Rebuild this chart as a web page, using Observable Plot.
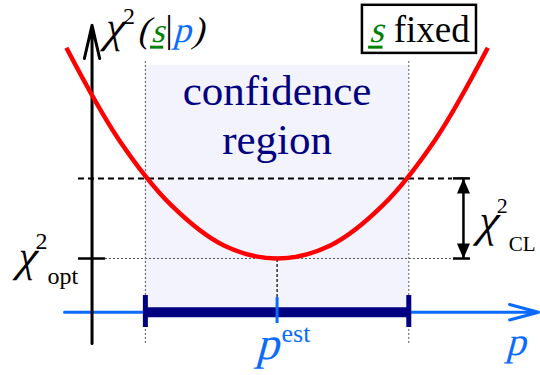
<!DOCTYPE html>
<html>
<head>
<meta charset="utf-8">
<script src="https://cdn.jsdelivr.net/npm/d3@7"></script>
<script src="https://cdn.jsdelivr.net/npm/@observablehq/plot@0.6"></script>
<style>
  html, body { margin: 0; padding: 0; background: #fff; }
  #chart svg { display: block; }
</style>
</head>
<body>
<div id="chart"></div>
<script>
// χ² profile as a function of the parameter p (s held fixed)
const pGrid = [-1.6, -1.2, -0.8, -0.4, 0, 0.4, 0.8, 1.2, 1.6];
const chi2Values = [3.63, 2.48, 1.66, 1.16, 1.0, 1.16, 1.66, 2.48, 3.63];

// best estimate, confidence interval and χ² levels
const pEst = 0;
const pInterval = [-1, 1];
const chi2Opt = 1;
const chi2CL = 1;

// label texts
const regionWords = ["confidence", "region"];
const chi2AxisName = "χ2(s|p)";
const fixedNote = "s fixed";
const optName = "χ2opt";
const clName = "χ2CL";
const estName = "pest";
const pAxisName = "p";

const serif = "'Liberation Serif', 'Times New Roman', serif";
const red = "#ff0000";
const navy = "#000080";
const blue = "#0a6cff";
const green = "#008000";

// layout levels in data units
const axisLevel = 0.33;       // where the p axis runs
const chi2AxisAt = -1.405;    // where the χ² axis runs
const axisBottom = -0.06;
const clArrowAt = 1.415;

const curve = pGrid.map((p, i) => ({p, chi2: chi2Values[i]}));
const one = [0];

const labels = [
  {text: regionWords[0], p: pEst, y: 2.91},
  {text: regionWords[1], p: pEst, y: 2.31}
];

const chart = Plot.plot({
  width: 540,
  height: 375,
  margin: 0,
  x: {domain: [-2.1, 2.0], axis: null},
  y: {domain: [-0.46, 4.22], axis: null},
  style: {background: "white", fontFamily: serif},
  marks: [
    // shaded confidence region
    Plot.rect([pInterval], {x1: d => d[0], x2: d => d[1], y1: axisLevel, y2: 3.41, fill: "#f3f3fd"}),
    // interval boundaries
    Plot.ruleX(pInterval, {y1: axisBottom, y2: 3.47, stroke: "#555", strokeWidth: 1, strokeDasharray: "2,2"}),
    // χ²opt level
    Plot.ruleY([chi2Opt], {x1: -1.303, x2: 1.332, stroke: "#555", strokeWidth: 1, strokeDasharray: "2,2"}),
    // χ²opt + χ²CL level
    Plot.ruleY([chi2Opt + chi2CL], {x1: -1.508, x2: 1.332, stroke: "black", strokeWidth: 2, strokeDasharray: "6,4"}),
    // tick at χ²opt on the vertical axis
    Plot.ruleY([chi2Opt], {x1: -1.508, x2: -1.303, stroke: "black", strokeWidth: 2.5}),
    // drop from the minimum to the estimate
    Plot.ruleX([pEst], {y1: 0.513, y2: chi2Opt, stroke: "black", strokeWidth: 1.2, strokeDasharray: "3,2"}),
    // p axis
    Plot.arrow(one, {x1: -1.614, x2: 1.985, y1: axisLevel, y2: axisLevel, stroke: blue, strokeWidth: 3, headAngle: 30, headLength: 15}),
    // confidence interval bar with end caps
    Plot.ruleY([axisLevel], {x1: pInterval[0], x2: pInterval[1], stroke: navy, strokeWidth: 10}),
    Plot.ruleX(pInterval, {y1: 0.139, y2: 0.538, stroke: navy, strokeWidth: 5}),
    // estimate tick
    Plot.ruleX([pEst], {y1: 0.189, y2: 0.513, stroke: blue, strokeWidth: 3}),
    // χ² axis
    Plot.arrow(one, {x1: chi2AxisAt, x2: chi2AxisAt, y1: axisBottom, y2: 3.91, stroke: "black", strokeWidth: 3, headAngle: 26, headLength: 17}),
    // χ² curve
    Plot.line(curve, {x: "p", y: "chi2", curve: "catmull-rom", stroke: red, strokeWidth: 4.5, strokeLinecap: "butt"}),
    // χ²CL double arrow
    Plot.ruleX([clArrowAt], {y1: chi2Opt, y2: chi2Opt + chi2CL, stroke: "black", strokeWidth: 2.5}),
    Plot.ruleY([chi2Opt, chi2Opt + chi2CL], {x1: 1.339, x2: 1.468, stroke: "black", strokeWidth: 2.5}),
    Plot.dot([chi2Opt + chi2CL], {x: clArrowAt, y: d => d, fill: "black", stroke: null,
      symbol: {draw(c) { c.moveTo(0, 0); c.lineTo(-6.5, 15); c.lineTo(6.5, 15); c.closePath(); }}}),
    Plot.dot([chi2Opt], {x: clArrowAt, y: d => d, fill: "black", stroke: null,
      symbol: {draw(c) { c.moveTo(0, 0); c.lineTo(-6.5, -15); c.lineTo(6.5, -15); c.closePath(); }}}),
    // "s fixed" box
    Plot.rect(one, {x1: 0.648, x2: 1.514, y1: 3.56, y2: 4.16, fill: "white", stroke: "black", strokeWidth: 2.5}),
    // labels
    Plot.text(labels, {x: "p", y: "y", text: "text", fontSize: 43, fill: navy, textAnchor: "middle", lineAnchor: "bottom", fontFamily: serif}),
    Plot.text(one, {x: -1.326, y: 3.70, text: () => chi2AxisName, textAnchor: "start", lineAnchor: "bottom", fontSize: 36}),
    Plot.text(one, {x: 1.081, y: 3.70, text: () => fixedNote, textAnchor: "middle", lineAnchor: "bottom", fontSize: 37}),
    Plot.text(one, {x: -1.99, y: 0.85, text: () => optName, textAnchor: "start", lineAnchor: "bottom", fontSize: 36}),
    Plot.text(one, {x: 1.506, y: 1.287, text: () => clName, textAnchor: "start", lineAnchor: "bottom", fontSize: 36}),
    Plot.text(one, {x: -0.164, y: -0.248, text: () => estName, textAnchor: "start", lineAnchor: "bottom", fontSize: 36}),
    Plot.text(one, {x: 1.734, y: -0.21, text: () => pAxisName, textAnchor: "start", lineAnchor: "bottom", fontSize: 38})
  ]
});

document.getElementById("chart").appendChild(chart);

// Math labels: italic runs are slanted roman glyphs, with colours and super/subscripts
const runs = {
  [chi2AxisName]: {anchor: "start", parts: [
    {t: "χ", size: 44, italic: true},
    {t: "2", size: 24, shift: -18},
    {t: "(", size: 36, italic: true, dx: 2},
    {t: "s", size: 34, italic: true, fill: green, underline: true, dx: 1},
    {t: "|", size: 38},
    {t: "p", size: 36, italic: true, fill: blue},
    {t: ")", size: 36, italic: true}
  ]},
  [fixedNote]: {anchor: "middle", parts: [
    {t: "s", size: 37, italic: true, fill: green, underline: true},
    {t: " fixed", size: 37}
  ]},
  [optName]: {anchor: "start", parts: [
    {t: "χ", size: 44, italic: true},
    {t: "2", size: 24, shift: -22},
    {t: "opt", size: 24, shift: 13}
  ]},
  [clName]: {anchor: "start", parts: [
    {t: "χ", size: 46, italic: true},
    {t: "2", size: 22, shift: -23},
    {t: "CL", size: 21, shift: 15, dx: 1}
  ]},
  [estName]: {anchor: "start", parts: [
    {t: "p", size: 46, italic: true, fill: blue},
    {t: "est", size: 26, shift: -17, fill: blue, dx: 2}
  ]},
  [pAxisName]: {anchor: "start", parts: [
    {t: "p", size: 40, italic: true, fill: blue}
  ]}
};

const SVGNS = "http://www.w3.org/2000/svg";
for (const el of [...chart.querySelectorAll("text")]) {
  const spec = runs[el.textContent];
  if (!spec) continue;
  const g = document.createElementNS(SVGNS, "g");
  g.setAttribute("transform", el.getAttribute("transform") || "");
  const inner = document.createElementNS(SVGNS, "g");
  g.appendChild(inner);
  el.parentNode.insertBefore(g, el);
  el.remove();
  let cursor = 0;
  for (const r of spec.parts) {
    const t = document.createElementNS(SVGNS, "text");
    t.textContent = r.t;
    t.setAttribute("text-anchor", "start");
    t.setAttribute("font-family", serif);
    t.setAttribute("font-size", r.size);
    if (r.fill) t.setAttribute("fill", r.fill);
    inner.appendChild(t);
    const w = t.getComputedTextLength();
    const x = cursor + (r.dx ?? 0);
    const y = r.shift ?? 0;
    t.setAttribute("transform", `translate(${x},${y})` + (r.italic ? " skewX(-15)" : ""));
    if (r.underline) {
      const u = document.createElementNS(SVGNS, "line");
      u.setAttribute("x1", x - 1);
      u.setAttribute("x2", x + w - 1);
      u.setAttribute("y1", y + 5);
      u.setAttribute("y2", y + 5);
      u.setAttribute("stroke", r.fill || "black");
      u.setAttribute("stroke-width", 3);
      inner.appendChild(u);
    }
    cursor = x + w + (r.italic ? 1 : 0);
  }
  if (spec.anchor === "middle") inner.setAttribute("transform", `translate(${-cursor / 2},0)`);
}
</script>
</body>
</html>
